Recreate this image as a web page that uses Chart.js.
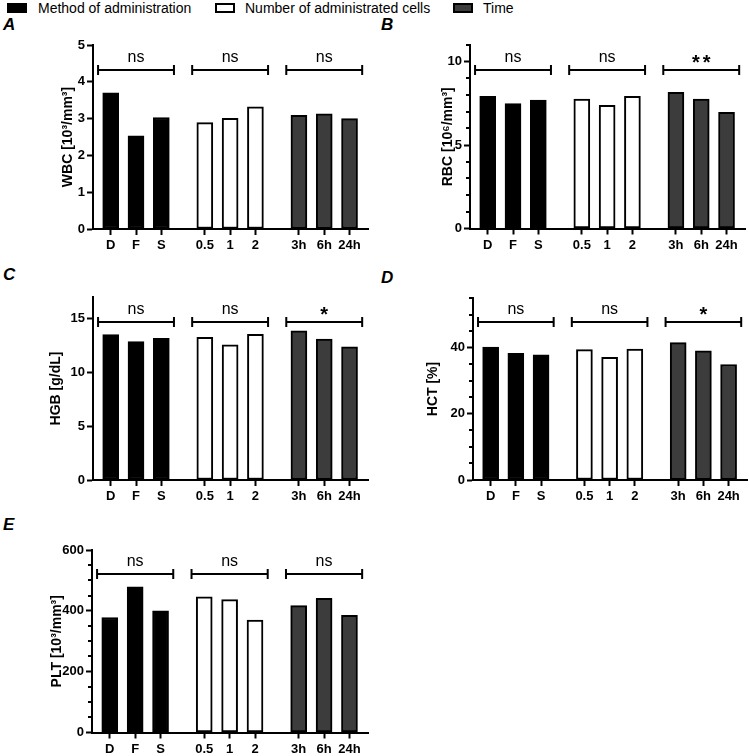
<!DOCTYPE html>
<html>
<head>
<meta charset="utf-8">
<script src="https://cdn.jsdelivr.net/npm/chart.js@4.4.0/dist/chart.umd.min.js"></script>
<style>
  html, body { margin: 0; padding: 0; background: #fff; }
  body { width: 749px; height: 756px; position: relative; overflow: hidden; font-family: "Liberation Sans", Arial, sans-serif; color: #000; }
  canvas { position: absolute; }
  .tag { position: absolute; font: italic bold 17px "Liberation Sans", Arial, sans-serif; line-height: 20px; }
  .key { position: absolute; top: 3px; width: 20px; height: 10px; box-sizing: border-box; border: 2px solid #000; }
  .key-text { position: absolute; top: 0; font-size: 14px; line-height: 16px; white-space: nowrap; }
</style>
</head>
<body>
<div id="legend"></div>
<div id="charts"></div>
<script>
// --- data ---
const categories = ['D', 'F', 'S', '0.5', '1', '2', '3h', '6h', '24h'];
const groupOf = [0, 0, 0, 1, 1, 1, 2, 2, 2];
const groupNames = ['Method of administration', 'Number of administrated cells', 'Time'];

const wbc = [3.70, 2.53, 3.03, 2.89, 3.01, 3.32, 3.09, 3.13, 3.00];
const rbc = [7.92, 7.49, 7.70, 7.76, 7.39, 7.92, 8.16, 7.76, 6.97];
const hgb = [13.51, 12.86, 13.17, 13.26, 12.55, 13.54, 13.85, 13.10, 12.36];
const hct = [40.2, 38.3, 37.8, 39.4, 37.1, 39.6, 41.5, 39.0, 34.9];
const plt = [378, 479, 400, 446, 437, 370, 417, 441, 385];

const sigWbc = ['ns', 'ns', 'ns'];
const sigRbc = ['ns', 'ns', '**'];
const sigHgb = ['ns', 'ns', '*'];
const sigHct = ['ns', 'ns', '*'];
const sigPlt = ['ns', 'ns', 'ns'];

// --- layout / style ---
const GROUP_STEP = 3.72;
const groupFills = ['#000000', '#ffffff', '#3c3c3c'];
const FONT = '"Liberation Sans", Arial, sans-serif';
const tickFont = { family: FONT, size: 13, weight: 'bold' };
const titleFont = { family: FONT, size: 14, weight: 'bold' };

// bar positions on the x axis: index inside its group, groups spaced apart
const xPos = categories.map((c, i) => groupOf[i] * GROUP_STEP + (i - groupOf.indexOf(groupOf[i])));

const panels = [
  { tag: 'A', values: wbc, sig: sigWbc, title: 'WBC [10³/mm³]', yMax: 5, yStep: 1, yMinor: 0,
    x: 0, y: 35, w: 375, h: 225, area: { l: 93, t: 45, r: 368, b: 229 }, titleX: 68, tagPos: [3, 15] },
  { tag: 'B', values: rbc, sig: sigRbc, title: 'RBC [10⁶/mm³]', yMax: 11, yStep: 5, yMinor: 1,
    x: 375, y: 35, w: 374, h: 225, area: { l: 470, t: 45, r: 745, b: 228.5 }, titleX: 448, tagPos: [381, 15] },
  { tag: 'C', values: hgb, sig: sigHgb, title: 'HGB [g/dL]', yMax: 17, yStep: 5, yMinor: 0,
    x: 0, y: 285, w: 375, h: 226, area: { l: 93, t: 297, r: 368, b: 480 }, titleX: 56, tagPos: [3, 265] },
  { tag: 'D', values: hct, sig: sigHct, title: 'HCT [%]', yMax: 55, yStep: 20, yMinor: 5,
    x: 375, y: 285, w: 374, h: 226, area: { l: 473, t: 298, r: 747, b: 480 }, titleX: 433, tagPos: [381, 268] },
  { tag: 'E', values: plt, sig: sigPlt, title: 'PLT [10³/mm³]', yMax: 600, yStep: 200, yMinor: 50,
    x: 0, y: 535, w: 375, h: 221, area: { l: 92, t: 550, r: 368, b: 732.5 }, titleX: 57, tagPos: [3, 515] }
];

// legend across the top
const legend = document.getElementById('legend');
const keyLeft = [7, 215, 453];
const textLeft = [38, 245, 483];
groupNames.forEach((name, g) => {
  const key = document.createElement('div');
  key.className = 'key';
  key.style.left = keyLeft[g] + 'px';
  key.style.background = groupFills[g];
  legend.appendChild(key);
  const txt = document.createElement('div');
  txt.className = 'key-text';
  txt.style.left = textLeft[g] + 'px';
  txt.textContent = name;
  legend.appendChild(txt);
});

// significance brackets + short minor ticks on the y axis
const bracketPlugin = {
  id: 'brackets',
  afterDraw(chart, args, opts) {
    const { ctx, chartArea, scales: { x, y } } = chart;
    ctx.save();
    ctx.strokeStyle = '#000';
    ctx.fillStyle = '#000';
    ctx.lineWidth = 2;

    if (opts.minor) {
      ctx.beginPath();
      for (let v = opts.minor; v <= y.max + 1e-9; v += opts.minor) {
        if (Math.abs(v / opts.major - Math.round(v / opts.major)) < 1e-6) continue;
        const py = Math.round(y.getPixelForValue(v));
        ctx.moveTo(chartArea.left, py);
        ctx.lineTo(chartArea.left - 4, py);
      }
      ctx.stroke();
    }

    const yPx = Math.round(y.getPixelForValue(y.max * 0.866));
    opts.labels.forEach((label, g) => {
      const idx = groupOf.map((v, i) => (v === g ? i : -1)).filter(i => i >= 0);
      const x0 = x.getPixelForValue(xPos[idx[0]] - 0.5);
      const x1 = x.getPixelForValue(xPos[idx[idx.length - 1]] + 0.5);
      ctx.beginPath();
      ctx.moveTo(x0, yPx); ctx.lineTo(x1, yPx);
      ctx.moveTo(x0, yPx - 5); ctx.lineTo(x0, yPx + 5);
      ctx.moveTo(x1, yPx - 5); ctx.lineTo(x1, yPx + 5);
      ctx.stroke();
      const cx = (x0 + x1) / 2;
      ctx.textAlign = 'center';
      ctx.textBaseline = 'alphabetic';
      if (label === 'ns') {
        ctx.font = '16px ' + FONT;
        ctx.fillText(label, cx, yPx - 8);
      } else {
        ctx.font = 'bold 20px ' + FONT;
        ctx.letterSpacing = '3px';
        ctx.fillText(label, cx + 1.5, yPx - 1);
        ctx.letterSpacing = '0px';
      }
    });
    ctx.restore();
  }
};

const holder = document.getElementById('charts');
panels.forEach(p => {
  const tag = document.createElement('div');
  tag.className = 'tag';
  tag.style.left = p.tagPos[0] + 'px';
  tag.style.top = p.tagPos[1] + 'px';
  tag.textContent = p.tag;
  holder.appendChild(tag);

  const canvas = document.createElement('canvas');
  canvas.width = p.w;
  canvas.height = p.h;
  canvas.style.left = p.x + 'px';
  canvas.style.top = p.y + 'px';
  holder.appendChild(canvas);

  new Chart(canvas.getContext('2d'), {
    type: 'bar',
    data: {
      datasets: [{
        data: p.values.map((v, i) => ({ x: xPos[i], y: v })),
        backgroundColor: groupOf.map(g => groupFills[g]),
        borderColor: '#000',
        borderWidth: 2,
        borderSkipped: false,
        barThickness: 16
      }]
    },
    options: {
      responsive: false,
      animation: false,
      layout: {
        padding: { left: 0, top: p.area.t - p.y, right: p.x + p.w - p.area.r, bottom: 0 }
      },
      plugins: {
        legend: { display: false },
        tooltip: { enabled: false },
        brackets: { labels: p.sig, minor: p.yMinor, major: p.yStep }
      },
      scales: {
        x: {
          type: 'linear', min: -0.7, max: 10.17, offset: false, z: 1,
          border: { color: '#000', width: 2 },
          grid: { offset: false, drawOnChartArea: false, tickLength: 6, tickWidth: 2, tickColor: '#000' },
          ticks: { color: '#000', font: tickFont, padding: 3, autoSkip: false, maxRotation: 0,
            callback: (v, i) => categories[i] },
          afterBuildTicks: s => { s.ticks = xPos.map(v => ({ value: v })); },
          afterFit: s => { s.height = p.y + p.h - p.area.b; }
        },
        y: {
          min: 0, max: p.yMax, z: 1,
          border: { color: '#000', width: 2 },
          grid: { drawOnChartArea: false, tickLength: 6, tickWidth: 2, tickColor: '#000' },
          ticks: { stepSize: p.yStep, color: '#000', font: tickFont, padding: 2, autoSkip: false },
          afterBuildTicks: s => {
            s.ticks = s.ticks.filter(t => Math.abs(t.value / p.yStep - Math.round(t.value / p.yStep)) < 1e-6);
          },
          afterFit: s => { s.width = p.area.l - p.x; },
          title: { display: true, text: p.title, color: '#000', font: titleFont,
            padding: { top: p.titleX - p.x - 8.4, bottom: 0 } }
        }
      }
    },
    plugins: [bracketPlugin]
  });
});
</script>
</body>
</html>
